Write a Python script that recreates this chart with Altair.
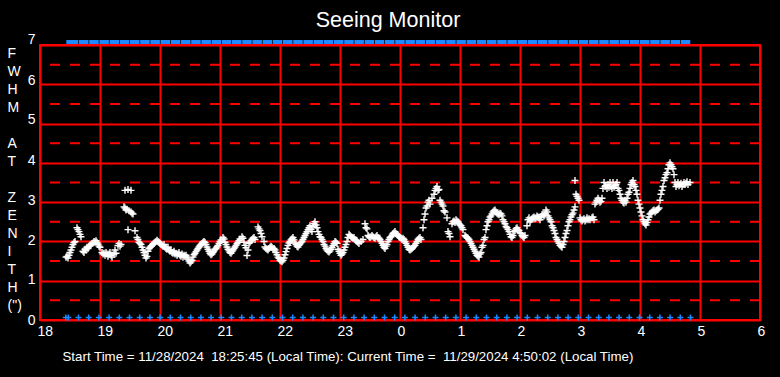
import altair as alt
import pandas as pd

NB = "\u00a0"
ZW = "\u200b"
TITLE = "Seeing Monitor"
FOOTER = ("Start Time = 11/28/2024 " + NB + "18:25:45 (Local Time): Current Time = " + NB
          + "11/29/2024 4:50:02 (Local Time)")
Y_TITLE_LINES = ["F", "W", "H", "M", ZW, "A", "T", ZW, "Z", "E", "N", "I", "T", "H", "(\")"]

# x positions are minutes after 18:00 local time
HOUR_TICKS = [0, 60, 120, 180, 240, 300, 360, 420, 480, 540, 600, 660, 720]
Y_TICKS = [0, 1, 2, 3, 4, 5, 6, 7]
HALF_LINES = [0.5, 1.5, 2.5, 3.5, 4.5, 5.5, 6.5]

# status markers (minutes after 18:00)
STATUS_MINUTES = [25.8, 28.3, 38.5, 48.7, 58.9, 69.1, 79.3, 89.5, 99.7, 109.9, 120.1,
                  130.3, 140.5, 150.7, 160.9, 171.1, 181.3, 191.5, 201.7, 211.9, 222.1,
                  232.3, 242.5, 252.7, 262.9, 273.1, 283.3, 293.5, 303.7, 313.9, 324.1,
                  334.3, 344.5, 354.7, 364.9, 375.1, 385.3, 395.5, 405.7, 415.9, 426.1,
                  436.3, 446.5, 456.7, 466.9, 477.1, 487.3, 497.5, 507.7, 517.9, 528.1,
                  538.3, 548.5, 558.7, 568.9, 579.1, 589.3, 599.5, 609.7, 619.9, 630.1,
                  640.3, 650.5]
TOP_MINUTES = STATUS_MINUTES[:-1]

# seeing samples: (minutes after 18:00, FWHM arcsec)
seg1 = [(26,1.60),(27,1.62),(28,1.58),(29,1.65),(30,1.72),(31,1.78),(32,1.85),(33,1.92),(34,1.97),(35,2.00),
        (37,2.35),(38,2.30),(39,2.25),(40,2.18),(41,2.12),
        (43,1.75),(44,1.72),(45,1.80),(46,1.78),(47,1.85),(48,1.82),(49,1.88),(50,1.90),(51,1.92),(52,1.95),
        (53,1.96),(54,2.00),(55,1.98),(56,2.02),(57,1.98),(58,1.93),(59,1.88),(60,1.85),(62,1.72),(63,1.68),
        (64,1.70),(65,1.65),(66,1.72),(67,1.68),(68,1.62),(69,1.68),(70,1.72),(71,1.65),(72,1.60),(74,1.68),
        (75,1.78),(76,1.70),(78,1.90),(79,1.95),(80,1.88),(81,1.92),
        (84,2.88),(85,3.30),(85,2.85),(86,2.80),(87,2.82),(88,3.32),(88,2.30),(89,2.78),(91,3.30),(91,2.75),
        (92,2.72),(93,2.70),(95,2.27),(97,2.10),(98,2.05),(99,1.98),(100,1.95),(101,1.92),(102,1.85),(103,1.78),
        (104,1.72),(105,1.65),(106,1.58),(107,1.62),(108,1.75),(109,1.82),(110,1.85),(111,1.88),(112,1.90),(113,1.93),
        (114,1.95),(115,1.98),(116,2.00),(117,2.03),(118,2.00),(119,1.98),(120,1.95),(121,1.92),(122,1.90),(123,1.88),
        (124,1.92),(125,1.85),(126,1.82),(127,1.80),(128,1.85),(129,1.78),(130,1.75),(131,1.78),(132,1.72),(133,1.70),
        (134,1.75),(135,1.68),(136,1.70),(137,1.65),(138,1.68),(139,1.72),(140,1.65),(141,1.62),(142,1.68),(143,1.60),
        (144,1.65),(145,1.62)]
seg2 = [(146,1.65),(147,1.60),(148,1.55),(149,1.50),(150,1.45),(151,1.48),(152,1.52),(153,1.60),(154,1.66),(155,1.70),
        (156,1.74),(157,1.78),(158,1.82),(159,1.86),(160,1.90),(161,1.92),(162,1.95),(163,1.98),(164,2.00),(165,1.97),
        (166,1.92),(167,1.86),(168,1.80),(169,1.75),(170,1.70),(171,1.66),(172,1.68),(173,1.72),(174,1.76),(175,1.80),
        (176,1.82),(177,1.86),(178,1.90),(179,1.95),(180,2.00),(181,2.04),(183,2.10),(184,2.06),(185,1.98),(186,1.92),
        (187,1.86),(188,1.80),(189,1.76),(190,1.72),(191,1.70),(192,1.74),(193,1.78),(194,1.82),(195,1.86),(196,1.90),
        (197,1.94),(198,1.98),(199,2.02),(200,2.06),(202,2.12),(203,2.08),(204,1.98),(205,1.90),(206,1.84),(207,1.64),
        (208,1.78),(209,1.95),(210,1.98),(211,2.02),(212,2.05),(213,2.08),(214,2.10),(215,2.05),(218,2.37),(219,2.32),
        (220,2.28),(221,2.20),(222,2.12),(224,2.00),(225,1.86),(226,1.82),(227,1.80),(228,1.78),(229,1.82),(230,1.85),
        (231,1.88),(232,1.85),(233,1.80),(234,1.82),(235,1.78),(236,1.72),(237,1.66),(238,1.60),(239,1.57),(240,1.52),
        (241,1.50),(242,1.48),(243,1.52),(244,1.58),(245,1.66),(246,1.74),(247,1.82),(248,1.90),(249,1.96),(250,2.00),
        (251,2.04),(252,2.07),(253,2.10),(254,2.04),(255,1.96),(256,1.92),(257,1.88),(258,1.86),(259,1.90),(260,1.94),
        (261,1.97),(262,2.00),(263,2.05),(264,2.10),(265,2.15),(266,2.20),(267,2.25),(268,2.30),(269,2.35)]
seg3 = [(270,2.40),(271,2.30),(272,2.25),(273,2.38),(274,2.45),(275,2.50),(276,2.42),(277,2.35),(278,2.25),(279,2.18),
        (280,2.12),(281,2.10),(282,2.05),(283,2.00),(284,1.92),(285,1.88),(286,1.82),(287,1.78),(288,1.75),(289,1.73),
        (290,1.76),(291,1.80),(292,1.85),(293,1.90),(294,1.95),(295,2.00),(296,1.98),(297,1.95),(298,1.80),(299,1.75),
        (300,1.70),(301,1.65),(302,1.68),(303,1.72),(304,1.78),(305,1.85),(306,1.92),(307,2.00),(308,2.10),(309,2.18),
        (310,2.15),(311,2.12),(312,2.10),(313,2.08),(314,2.10),(315,2.05),(316,2.02),(317,2.00),(318,1.97),(319,1.95),
        (321,2.00),(323,2.05),(325,2.45),(326,2.35),(327,2.32),(328,2.15),(329,2.12),(330,2.10),(331,2.12),(332,2.15),
        (333,2.12),(334,2.10),(335,2.08),(336,2.12),(337,2.15),(338,2.10),(339,2.08),(340,2.05),(341,2.00),(342,1.95),
        (343,1.90),(344,1.85),(345,1.82),(346,1.88),(347,1.92),(348,2.00),(349,2.05),(350,2.10),(351,2.12),(352,2.15),
        (353,2.20),(354,2.22),(355,2.25),(356,2.20),(357,2.18),(358,2.15),(359,2.12),(360,2.10),(361,2.08),(362,2.05),
        (363,2.08),(364,2.05),(365,2.00),(366,1.95),(367,1.90),(368,1.85),(369,1.80),(370,1.78),(371,1.80),(372,1.82),
        (373,1.85),(374,1.88),(375,1.90),(376,1.95),(377,2.00),(378,2.05),(379,2.08),(380,2.10),(381,2.05),(383,2.35),
        (384,2.55),(385,2.70),(386,2.85),(387,2.90),(388,3.00),(389,3.05),(390,2.95),(392,3.10),(394,3.20),(395,3.30),
        (396,3.35),(397,3.40),(398,3.30),(399,3.32)]
seg4 = [(400,3.05),(401,3.00),(402,2.95),(403,2.90),(404,2.78),(405,2.75),(407,2.60),(408,2.25),(409,2.20),(410,2.12),
        (412,2.45),(413,2.50),(414,2.52),(415,2.48),(416,2.55),(417,2.52),(418,2.50),(419,2.45),(420,2.42),(421,2.40),
        (422,2.35),(423,2.30),(425,2.15),(426,2.12),(427,2.10),(428,2.08),(429,2.05),(430,2.00),(431,1.95),(432,1.90),
        (433,1.85),(434,1.80),(435,1.75),(436,1.70),(437,1.65),(438,1.62),(439,1.60),(440,1.68),(441,1.72),(442,1.85),
        (443,1.90),(444,2.05),(445,2.10),(446,2.30),(447,2.40),(448,2.50),(449,2.55),(450,2.62),(451,2.65),(452,2.70),
        (453,2.75),(454,2.78),(455,2.80),(456,2.75),(457,2.72),(458,2.70),(459,2.68),(460,2.72),(461,2.70),(462,2.65),
        (463,2.55),(464,2.50),(465,2.45),(466,2.38),(467,2.35),(468,2.30),(469,2.25),(470,2.18),(471,2.12),(472,2.10),
        (473,2.15),(474,2.25),(475,2.28),(476,2.32),(477,2.35),(478,2.30),(479,2.28),(480,2.22),(481,2.20),(482,2.15),
        (483,2.12),(484,2.10),(485,2.15),(487,2.40),(488,2.55),(489,2.60),(490,2.50),(491,2.55),(492,2.58),(493,2.60),
        (494,2.62),(495,2.58),(496,2.60),(497,2.65),(498,2.62),(499,2.60),(500,2.55),(501,2.62),(502,2.68),(503,2.70),
        (504,2.65),(505,2.70),(506,2.80),(507,2.75),(508,2.65),(509,2.60),(510,2.55),(511,2.50),(512,2.40),(513,2.35),
        (514,2.28),(515,2.20),(516,2.10),(517,2.05),(518,2.00),(519,1.95),(520,1.90),(521,1.88),(522,1.85),(523,1.92),
        (524,2.00),(525,2.10),(526,2.20),(527,2.28),(528,2.40),(529,2.50),(530,2.55),(531,2.62),(532,2.68),(533,2.72),
        (534,2.80),(535,2.88)]
seg5 = [(535,3.55),(536,3.20),(537,3.15),(538,3.10),(539,3.05),(540,2.60),(541,2.55),(542,2.52),(543,2.55),(544,2.58),
        (545,2.52),(546,2.55),(547,2.60),(548,2.55),(549,2.58),(550,2.55),(552,2.60),(553,2.62),(554,2.55),(555,2.95),
        (556,3.00),(557,3.05),(558,3.10),(559,3.05),(560,3.00),(561,3.02),(562,3.10),(563,3.35),(564,3.50),(565,3.40),
        (566,3.42),(567,3.35),(568,3.45),(569,3.38),(570,3.50),(571,3.40),(572,3.35),(573,3.50),(574,3.38),(575,3.42),
        (576,3.45),(577,3.50),(578,3.35),(579,3.30),(580,3.20),(581,3.10),(582,3.05),(583,3.00),(584,2.98),(585,3.05),
        (586,3.00),(587,3.10),(588,3.20),(589,3.25),(590,3.35),(591,3.45),(592,3.50),(593,3.55),(594,3.45),(595,3.40),
        (596,3.30),(597,3.20),(598,3.05),(599,2.95),(600,2.85),(601,2.75),(602,2.65),(603,2.55),(604,2.50),(605,2.45),
        (606,2.42),(607,2.48),(608,2.55),(609,2.62),(610,2.70),(611,2.72),(612,2.75),(613,2.78),(614,2.80),(615,2.75),
        (616,2.78),(617,2.80),(618,2.82),(619,2.85),(620,3.05),(621,3.20),(622,3.30),(623,3.40),(624,3.55),(625,3.62),
        (626,3.70),(627,3.75),(628,3.85),(629,3.95),(630,4.00),(631,3.95),(632,3.90),(633,3.85),(634,3.70),(635,3.50),
        (636,3.40),(637,3.45),(638,3.50),(639,3.42),(640,3.45),(641,3.48),(642,3.40),(643,3.45),(644,3.50),(645,3.45),
        (646,3.48),(647,3.52),(648,3.45),(650,3.50)]

RED = "#ff0000"
BLUE = "#1e88ff"
FONT = "Liberation Sans"

samples = pd.DataFrame(seg1 + seg2 + seg3 + seg4 + seg5, columns=["minute", "fwhm"])
half_df = pd.DataFrame({"v": HALF_LINES})
bottom_df = pd.DataFrame({"minute": STATUS_MINUTES, "v": [0] * len(STATUS_MINUTES)})
top_df = pd.DataFrame({"minute": TOP_MINUTES, "v": [7] * len(TOP_MINUTES)})

xscale = alt.Scale(domain=[0, 720], nice=False, zero=False)
yscale = alt.Scale(domain=[0, 7], nice=False, zero=True)

xaxis = alt.Axis(values=HOUR_TICKS, labelExpr="(18 + datum.value / 60) % 24",
                 grid=True, gridColor=RED, gridWidth=2, domain=False, ticks=False,
                 labelColor="white", labelFont=FONT, labelFontSize=14, labelPadding=4,
                 labelBaseline="top", labelAlign="left", labelOffset=-3, labelFlush=False,
                 title=FOOTER, titleColor="white", titleFont=FONT, titleFontSize=13.3,
                 titleFontWeight="normal", titleAlign="left", titleAnchor="start",
                 titleX=22, titleY=40, titleBaseline="alphabetic")
yaxis = alt.Axis(values=Y_TICKS, grid=True, gridColor=RED, gridWidth=2, domain=False, ticks=False,
                 labelColor="white", labelFont=FONT, labelFontSize=14, labelPadding=5,
                 labelBaseline="middle", labelFlush=False,
                 labelOffset={"condition": [{"test": "datum.value >= 7", "value": -6},
                                            {"test": "datum.value >= 5", "value": -4},
                                            {"test": "datum.value >= 3", "value": -2},
                                            {"test": "datum.value >= 1", "value": -1}],
                              "value": 0},
                 title=Y_TITLE_LINES, titleColor="white", titleFont=FONT, titleFontSize=14,
                 titleFontWeight="normal", titleAngle=0, titleAlign="left", titleBaseline="top",
                 titleLineHeight=18, titleX=-33, titleY=1)

base_x = alt.X("minute:Q", scale=xscale, axis=xaxis)

half_rules = alt.Chart(half_df).mark_rule(color=RED, strokeWidth=2, strokeDash=[10, 10]).encode(
    y=alt.Y("v:Q", scale=yscale, axis=yaxis)
)

points = alt.Chart(samples).mark_point(
    shape="M-1,0H1M0,-1V1", filled=False, stroke="white", strokeWidth=1.4, size=49, opacity=1
).encode(
    x=base_x,
    y=alt.Y("fwhm:Q", scale=yscale, axis=yaxis),
)

bottom = alt.Chart(bottom_df).mark_point(
    shape="M-1,-0.8H1M0,-1.8V0.2", filled=False, stroke=BLUE, strokeWidth=1.5, size=36, opacity=1
).encode(
    x=alt.X("minute:Q", scale=xscale, axis=xaxis),
    y=alt.Y("v:Q", scale=yscale, axis=yaxis),
)

top = alt.Chart(top_df).mark_point(
    shape="M0.1,-1H2.0V-0.2H0.1Z", filled=True, fill=BLUE, strokeWidth=0, size=100, opacity=1
).encode(
    x=alt.X("minute:Q", scale=xscale, axis=xaxis),
    y=alt.Y("v:Q", scale=yscale, axis=yaxis),
)

chart = alt.layer(half_rules, points, bottom, top).properties(
    width=720, height=275,
    padding={"left": 40, "top": 45, "right": 20, "bottom": 57},
    autosize=alt.AutoSizeParams(type="none"),
    background="black",
    title=alt.TitleParams(TITLE, color="white", fontSize=21.5, font=FONT, fontWeight="normal",
                          anchor="middle", offset=7, dx=-12, dy=6),
).configure_view(stroke=RED, strokeWidth=2)

chart.save("out.html", embed_options={"renderer": "svg", "actions": False})
